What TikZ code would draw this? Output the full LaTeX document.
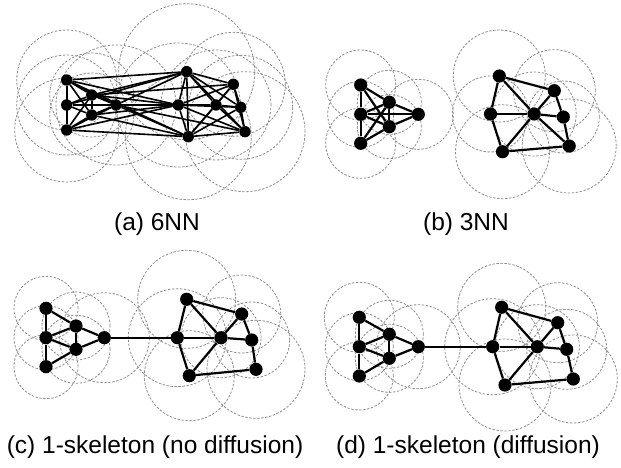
\documentclass[tikz,border=0pt]{standalone}
\usepackage{fontspec}
\setmainfont{Liberation Sans}
\usetikzlibrary{backgrounds}
\tikzset{
  vtx/.style={circle, fill=black, inner sep=0pt, minimum size=13.2pt},
  vtxs/.style={vtx, minimum size=11.4pt},
  link/.style={line width=2.2pt},
  thinlink/.style={line width=1.6pt},
  cover/.style={draw=black!45, line width=0.8pt, dash pattern=on 2.4pt off 1.6pt},
  subcap/.style={font=\fontsize{24.5}{28}\selectfont, anchor=base, inner sep=0pt}
}

\begin{document}
\begin{tikzpicture}[x=1pt, y=-1pt]
\useasboundingbox (0,0) rectangle (621,468);

% (a) 6 nearest neighbours
\foreach \n/\x/\y/\r in {l1/66.7/80/50, l2/66.7/105/50, l3/66.7/130/52, l4/91.7/95/42,
    l5/91.7/115/42, l6/116/105/60, r1/186.7/71.7/68, r2/178.3/105/62, r3/188.3/136.7/63,
    r4/233.3/84.3/52, r5/216/105/55, r6/240.7/107.3/52, r7/245/131.7/60} {
  \scoped[on background layer] \draw[cover] (\x,\y) circle (\r pt);
  \node[vtxs] (a\n) at (\x,\y) {};
}
\foreach \i [evaluate=\i as \j using int(\i+1)] in {1,...,5}
  \foreach \k in {\j,...,6} \draw[thinlink] (al\i) -- (al\k);
\foreach \i [evaluate=\i as \j using int(\i+1)] in {1,...,6}
  \foreach \k in {\j,...,7} \draw[thinlink] (ar\i) -- (ar\k);
\foreach \u/\v in {l1/r1, l1/r2, l1/r3, l4/r1, l4/r2, l4/r4, l2/r1, l2/r2, l2/r5,
    l6/r1, l6/r3, l6/r7, l5/r2, l5/r3, l3/r3, l3/r2}
  \draw[thinlink] (a\u) -- (a\v);

% (b) 3 nearest neighbours
\foreach \n/\x/\y/\r in {l1/360.7/85/35, l2/360.7/114.3/33, l3/360.7/143.3/35, l4/389.3/102.3/32,
    l5/389.3/126.7/32, l6/418.3/114.3/35, r1/499.3/76/46, r2/490.5/114/38, r3/502.5/151.7/47,
    r4/554.3/90.7/41, r5/534.2/114/42, r6/563.3/117/36, r7/569.2/146/47} {
  \scoped[on background layer] \draw[cover] (\x,\y) circle (\r pt);
  \node[vtx] (b\n) at (\x,\y) {};
}
\foreach \u/\v in {l1/l2, l2/l3, l1/l4, l1/l5, l2/l4, l2/l5, l2/l6, l3/l4, l3/l5, l4/l5,
    l4/l6, l5/l6, r1/r2, r1/r4, r1/r5, r2/r5, r2/r3, r3/r5, r3/r7, r4/r5, r4/r6, r5/r6,
    r6/r7, r5/r7}
  \draw[link] (b\u) -- (b\v);

% (c) and (d) 1-skeleton
\foreach \n/\x/\y/\r in {l1/46/308.3/32, l2/46/337.7/32, l3/46/366.7/32, l4/76/326/34,
    l5/76/349.3/34, l6/104.3/337.7/45, r1/186.7/299.3/49, r2/177.3/337.7/49, r3/189.3/375.7/45,
    r4/241.7/314/39, r5/221/337.7/40, r6/251.7/340/38, r7/256/369.3/49} {
  \scoped[on background layer] \draw[cover] (\x,\y) circle (\r pt);
  \node[vtx] (c\n) at (\x,\y) {};
}
\foreach \n/\x/\y/\r in {l1/359.3/317.3/35, l2/359.3/346.7/34, l3/359.3/376/34, l4/389.3/334.3/34,
    l5/389.3/358.3/34, l6/418.3/346.7/42, r1/501.7/307.3/44, r2/492.7/346.7/48, r3/505/385/46,
    r4/557.7/322.7/40, r5/537.3/346.7/42, r6/566.7/349.3/40, r7/573.3/379/44} {
  \scoped[on background layer] \draw[cover] (\x,\y) circle (\r pt);
  \node[vtx] (d\n) at (\x,\y) {};
}
\foreach \p in {c,d}
  \foreach \u/\v in {l1/l2, l2/l3, l1/l4, l2/l4, l2/l5, l3/l5, l4/l5, l4/l6, l5/l6, l6/r2,
      r1/r2, r1/r4, r1/r5, r2/r5, r2/r3, r3/r5, r3/r7, r4/r5, r4/r6, r5/r6, r6/r7}
    \draw[link] (\p\u) -- (\p\v);

\node[subcap] (capa) at (157,230) {(a) 6NN};
\node[subcap] (capb) at (466,230) {(b) 3NN};
\node[subcap] (capc) at (155,453) {(c) 1-skeleton (no diffusion)};
\node[subcap] (capd) at (468,453) {(d) 1-skeleton (diffusion)};
\end{tikzpicture}
\end{document}
